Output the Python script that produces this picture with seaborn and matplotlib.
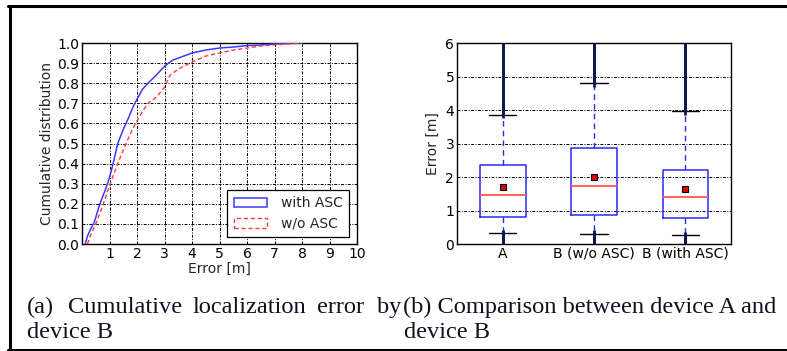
import numpy as np
import pandas as pd
import matplotlib
matplotlib.use("Agg")
import matplotlib.pyplot as plt
from matplotlib.patches import Patch
from matplotlib.lines import Line2D
import seaborn as sns

# ---------------- data ----------------
# (a) CDF curves
with_x = [0.12, 0.2, 0.3, 0.45, 0.65, 0.85, 1.0, 1.15, 1.3, 1.5, 1.7, 1.85, 2.0, 2.2, 2.4,
          2.7, 2.9, 3.05, 3.3, 3.6, 4.0, 4.5, 5.0, 5.5, 6.0, 6.5, 7.0, 7.5, 8.0]
with_y = [0.0, 0.04, 0.07, 0.11, 0.2, 0.27, 0.33, 0.41, 0.5, 0.57, 0.63, 0.68, 0.72, 0.77, 0.8,
          0.84, 0.87, 0.89, 0.915, 0.93, 0.95, 0.965, 0.975, 0.98, 0.987, 0.99, 0.995, 0.998, 1.0]
wo_x = [0.2, 0.3, 0.5, 0.7, 1.0, 1.3, 1.6, 1.8, 1.95, 2.2, 2.4, 2.7, 3.0, 3.2, 3.5, 4.0,
        4.5, 5.0, 5.5, 6.0, 6.5, 7.0, 7.5, 8.0]
wo_y = [0.0, 0.04, 0.1, 0.17, 0.29, 0.4, 0.5, 0.56, 0.6, 0.66, 0.7, 0.73, 0.78, 0.84, 0.87, 0.905,
        0.935, 0.95, 0.965, 0.975, 0.985, 0.99, 0.995, 1.0]
cdf_labels = ["with ASC", "w/o ASC"]
cdf_xticks = [1, 2, 3, 4, 5, 6, 7, 8, 9, 10]
cdf_yticks = [0.0, 0.1, 0.2, 0.3, 0.4, 0.5, 0.6, 0.7, 0.8, 0.9, 1.0]

# (b) box statistics
box_labels = ["A", "B (w/o ASC)", "B (with ASC)"]
box_q1 = [0.82, 0.87, 0.78]
box_med = [1.45, 1.73, 1.40]
box_q3 = [2.35, 2.87, 2.20]
box_mean = [1.70, 2.00, 1.65]
box_wlo = [0.33, 0.30, 0.27]
box_whi = [3.85, 4.80, 3.97]
fliers_A = [0.02, 0.08, 0.14, 0.2, 0.26, 3.9, 4.0, 4.1, 4.2, 4.3, 4.4, 4.5, 4.6, 4.7, 4.8, 4.88,
            5.12, 5.2, 5.3, 5.4, 5.5, 5.6, 5.7, 5.8, 5.9, 6.0]
fliers_Bwo = [0.02, 0.08, 0.14, 0.2, 0.26, 4.85, 4.95, 5.05, 5.15, 5.25, 5.35, 5.45, 5.55, 5.65,
              5.75, 5.85, 5.95, 6.0]
fliers_Bw = [0.02, 0.08, 0.14, 0.2, 4.0, 4.1, 4.2, 4.3, 4.4, 4.5, 4.6, 4.7, 4.8, 4.9, 5.0, 5.1,
             5.2, 5.3, 5.4, 5.5, 5.6, 5.7, 5.8, 5.9, 6.0]
box_fliers = [fliers_A, fliers_Bwo, fliers_Bw]
box_yticks = [0, 1, 2, 3, 4, 5, 6]

# ---------------- style ----------------
sns.set_style("white")
plt.rcParams["font.family"] = ["DejaVu Sans"]
FS = 10
GRID = dict(color="black", linestyle=(0, (3, 1.5, 1, 1.5)), linewidth=0.7)

fig = plt.figure(figsize=(7.87, 3.51), dpi=100)
W, H = 787, 351

def ax_rect(x0, x1, y0, y1):
    return [x0 / W, 1 - y1 / H, (x1 - x0) / W, (y1 - y0) / H]

ax1 = fig.add_axes(ax_rect(82, 357, 43, 244))
ax2 = fig.add_axes(ax_rect(457, 731, 43, 244))

# ---------------- (a) CDF ----------------
df_with = pd.DataFrame({"x": with_x, "y": with_y})
df_wo = pd.DataFrame({"x": wo_x, "y": wo_y})
sns.lineplot(data=df_with, x="x", y="y", ax=ax1, color="#3a3aff", linewidth=1.1,
             sort=False, estimator=None, zorder=3)
sns.lineplot(data=df_wo, x="x", y="y", ax=ax1, color="#ff3b3b", linewidth=1.0,
             linestyle=(0, (3, 2)), sort=False, estimator=None, zorder=3)
ax1.set_xlim(0, 10)
ax1.set_ylim(0, 1.0)
ax1.set_xticks(cdf_xticks)
ax1.set_xticklabels([str(t) for t in cdf_xticks])
ax1.set_yticks(cdf_yticks)
ax1.set_yticklabels([f"{t:.1f}" for t in cdf_yticks])
ax1.grid(True, **GRID)
ax1.set_axisbelow(True)
ax1.set_xlabel("Error [m]", fontsize=FS, labelpad=1)
ax1.set_ylabel("Cumulative distribution", fontsize=FS, labelpad=2)
handles = [Patch(facecolor="none", edgecolor="#3a3aff", linewidth=1.1),
           Patch(facecolor="none", edgecolor="#ff3b3b", linewidth=1.0, linestyle=(0, (3, 2)))]
leg = ax1.legend(handles, cdf_labels, loc="lower right", bbox_to_anchor=(0.971, 0.035),
                 borderaxespad=0, fontsize=FS, frameon=True, fancybox=False,
                 edgecolor="black", framealpha=1, handlelength=2.4, handletextpad=1.0,
                 borderpad=0.45, labelspacing=0.45)
leg.get_frame().set_linewidth(0.9)

# ---------------- (b) boxplot ----------------
stats = []
for i in range(len(box_labels)):
    stats.append(dict(label=box_labels[i], q1=box_q1[i], med=box_med[i], q3=box_q3[i],
                      mean=box_mean[i], whislo=box_wlo[i], whishi=box_whi[i],
                      fliers=box_fliers[i]))
ax2.bxp(stats, positions=[1, 2, 3], widths=0.5, capwidths=0.3, showmeans=True,
        showfliers=True,
        boxprops=dict(color="#2b2bf0", linewidth=1.1),
        whiskerprops=dict(color="#2b2bf0", linewidth=1.0, linestyle=(0, (4, 3))),
        capprops=dict(color="black", linewidth=1.0),
        medianprops=dict(color="#ff5555", linewidth=1.3),
        meanprops=dict(marker="s", markerfacecolor="#e00000", markeredgecolor="black",
                       markersize=4.5, markeredgewidth=0.8),
        flierprops=dict(marker="|", markersize=7, markeredgewidth=2.0,
                        markeredgecolor="#0d1850", linestyle="none"))
ax2.set_xlim(0.5, 3.5)
ax2.set_ylim(0, 6)
ax2.set_yticks(box_yticks)
ax2.set_yticklabels([str(t) for t in box_yticks])
ax2.set_xticks([1, 2, 3])
ax2.set_xticklabels(box_labels)
ax2.yaxis.grid(True, **GRID)
ax2.xaxis.grid(False)
ax2.set_axisbelow(True)
ax2.set_ylabel("Error [m]", fontsize=FS, labelpad=4)

for ax in (ax1, ax2):
    for s in ax.spines.values():
        s.set_color("black")
        s.set_linewidth(1.0)
        s.set_visible(True)
    ax.tick_params(axis="both", labelsize=FS, direction="in", length=0, pad=2,
                   colors="black")

# ---------------- captions ----------------
serif = dict(family=["Liberation Serif", "DejaVu Serif"], fontsize=17.6, color="#111122")
y1 = 1 - 313 / H
y2 = 1 - 338 / H
words_a = ["(a)", "Cumulative", "localization", "error", "by"]
left_a = [27, 68, 193, 317, 377]
for w, x in zip(words_a, left_a):
    fig.text(x / W, y1, w, ha="left", va="baseline", **serif)
fig.text(27 / W, y2, "device B", ha="left", va="baseline", **serif)
fig.text(403 / W, y1, "(b) Comparison between device A and", ha="left", va="baseline", **serif)
fig.text(404 / W, y2, "device B", ha="left", va="baseline", **serif)

# ---------------- outer frame ----------------
lw = 2.2
fig.add_artist(Line2D([8 / W, 1.0], [1 - 5.5 / H, 1 - 5.5 / H], color="black", linewidth=lw,
                      transform=fig.transFigure))
fig.add_artist(Line2D([10 / W, 10 / W], [1 - 5.5 / H, 0], color="black", linewidth=lw,
                      transform=fig.transFigure))
fig.add_artist(Line2D([8 / W, 1.0], [1 - 349.5 / H, 1 - 349.5 / H], color="black", linewidth=lw,
                      transform=fig.transFigure))

fig.savefig("out.png", dpi=100)
